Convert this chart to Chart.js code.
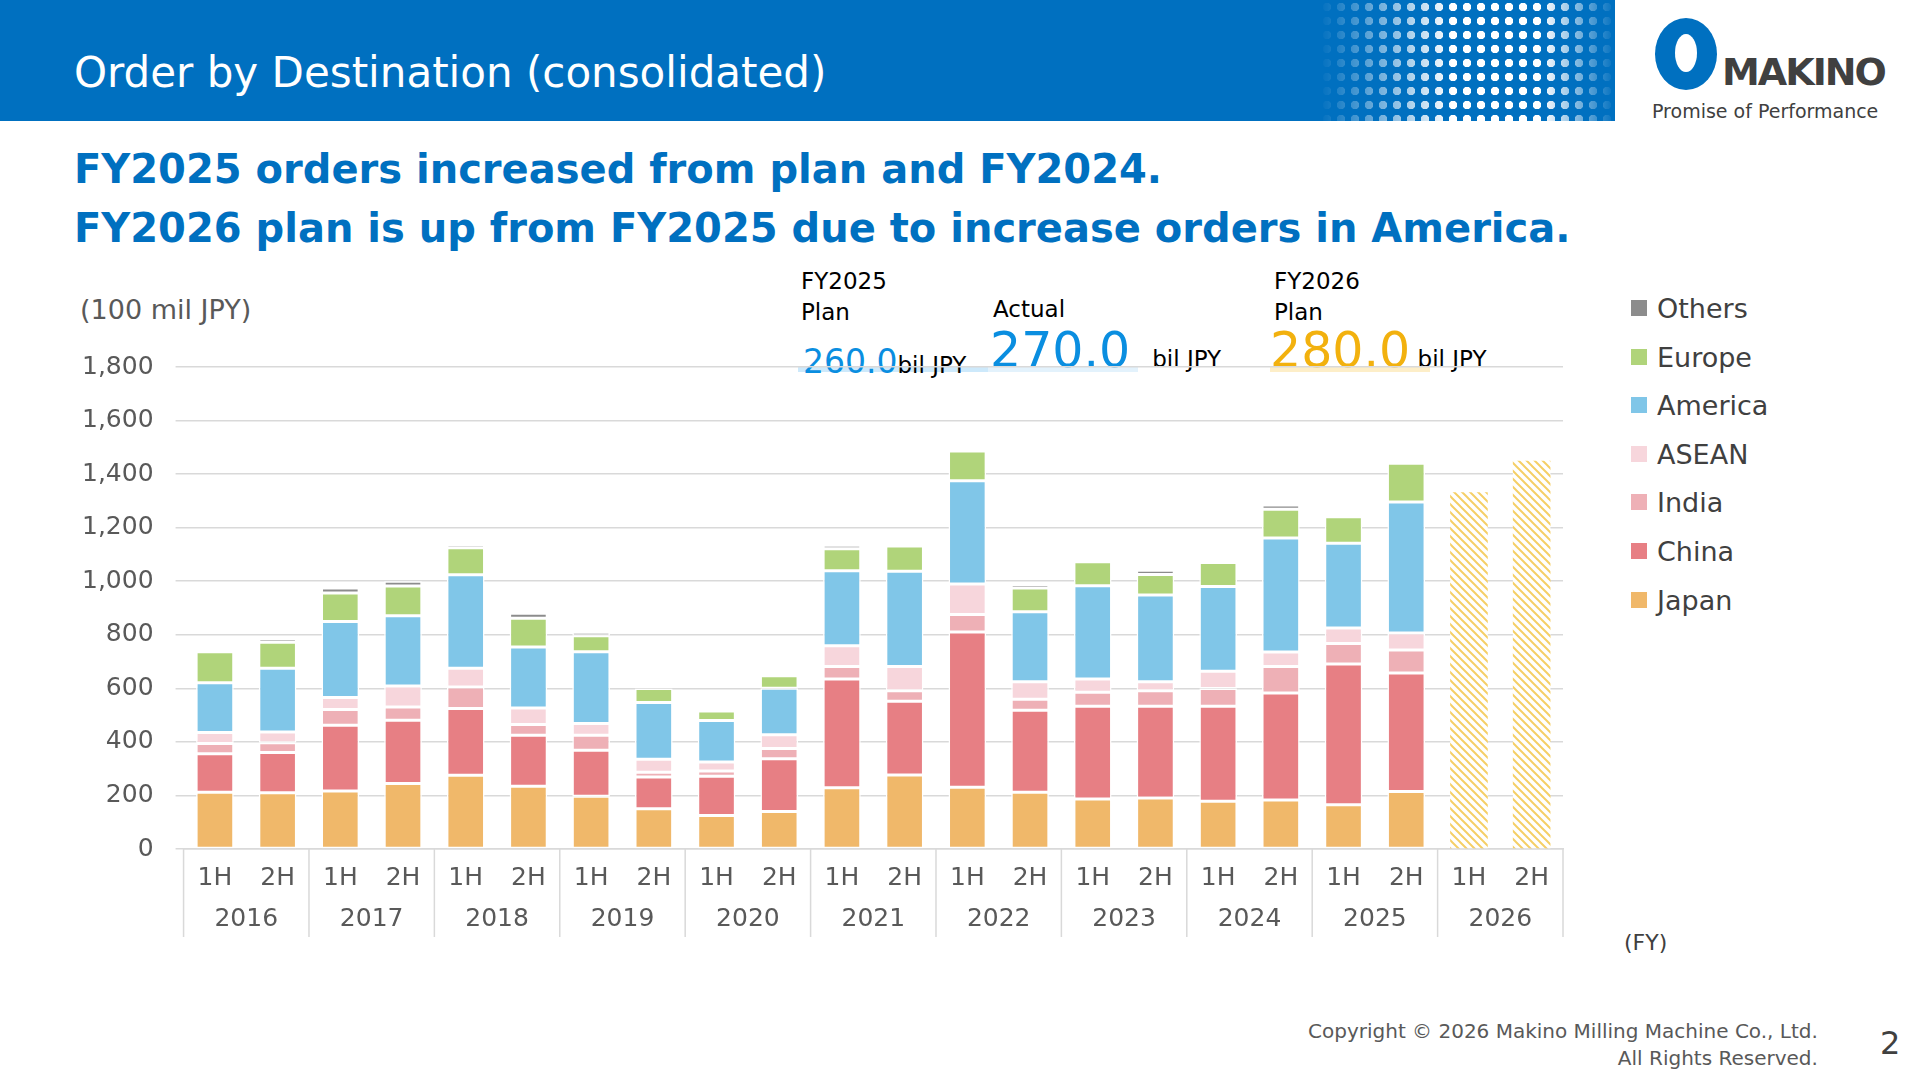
<!DOCTYPE html>
<html><head><meta charset="utf-8">
<script src="https://cdn.jsdelivr.net/npm/chart.js@4.4.1/dist/chart.umd.min.js"></script>
<style>
body{margin:0;width:1920px;height:1080px;overflow:hidden;background:#fff;font-family:"DejaVu Sans",Verdana,sans-serif;position:relative}
.abs{position:absolute;white-space:nowrap}
#band{left:0;top:0;width:1615px;height:121px;background:#0070c0}
#dots{left:1320px;top:0;width:295px;height:121px;
 background-image:radial-gradient(circle,#fff 0 4px,transparent 4.5px);background-size:14px 14px;
 -webkit-mask-image:linear-gradient(90deg,transparent,#000 45%,#000 75%,transparent);mask-image:linear-gradient(90deg,transparent,#000 45%,#000 75%,transparent)}
#title{left:74px;top:48px;color:#fff;font-size:42px}
.head{left:74px;color:#0070c0;font-weight:bold;font-size:40px}
.leg{left:1631px;font-size:27px;color:#404040}
.leg span{display:inline-block;width:16px;height:16px;margin-right:10px;vertical-align:2px}
</style></head><body>
<div id="band" class="abs"></div><div id="dots" class="abs"></div>
<div id="title" class="abs">Order by Destination (consolidated)</div>
<div class="abs" style="left:1655px;top:18px;width:62px;height:72px;border-radius:50%;background:#0070c0"></div>
<div class="abs" style="left:1675px;top:34px;width:22px;height:38px;border-radius:50%;background:#fff"></div>
<div class="abs" style="left:1722px;top:50px;font-size:38px;font-weight:bold;color:#404040;letter-spacing:-2px">MAKINO</div>
<div class="abs" style="left:1652px;top:100px;font-size:19px;color:#404040">Promise of Performance</div>
<div class="abs head" style="top:146px">FY2025 orders increased from plan and FY2024.</div>
<div class="abs head" style="top:205px">FY2026 plan is up from FY2025 due to increase orders in America.</div>
<div class="abs" style="left:80px;top:294px;font-size:27px;color:#595959">(100 mil JPY)</div>
<div class="abs" style="left:801px;top:266px;font-size:23px;line-height:31px;color:#000">FY2025<br>Plan</div>
<div class="abs" style="left:798px;top:366px;width:190px;height:6px;background:#cde9fb"></div>
<div class="abs" style="left:803px;top:342px;font-size:33px;color:#0a8ee0">260.0<span style="font-size:23px;color:#000">bil JPY</span></div>
<div class="abs" style="left:993px;top:296px;font-size:23px;color:#000">Actual</div>
<div class="abs" style="left:988px;top:366px;width:150px;height:6px;background:#e3f2fc"></div>
<div class="abs" style="left:990px;top:322px;font-size:49px;color:#0a8ee0">270.0<span style="font-size:23px;color:#000">&nbsp;&nbsp;&nbsp;bil JPY</span></div>
<div class="abs" style="left:1274px;top:266px;font-size:23px;line-height:31px;color:#000">FY2026<br>Plan</div>
<div class="abs" style="left:1270px;top:366px;width:160px;height:6px;background:#fdeec8"></div>
<div class="abs" style="left:1270px;top:322px;font-size:49px;color:#f2b10e">280.0<span style="font-size:23px;color:#000"> bil JPY</span></div>
<div class="abs leg" style="top:293px"><span style="background:#8c8c8c"></span>Others</div>
<div class="abs leg" style="top:342px"><span style="background:#b0d47a"></span>Europe</div>
<div class="abs leg" style="top:390px"><span style="background:#80c6e8"></span>America</div>
<div class="abs leg" style="top:439px"><span style="background:#f7d6dc"></span>ASEAN</div>
<div class="abs leg" style="top:487px"><span style="background:#eeb0b6"></span>India</div>
<div class="abs leg" style="top:536px"><span style="background:#e77f84"></span>China</div>
<div class="abs leg" style="top:585px"><span style="background:#f0b86a"></span>Japan</div>
<div class="abs" style="left:1624px;top:930px;font-size:22px;color:#404040">(FY)</div>
<div class="abs" style="left:1308px;top:1018px;font-size:20px;color:#595959;text-align:right;line-height:27px">Copyright © 2026 Makino Milling Machine Co., Ltd.<br>All Rights Reserved.</div>
<div class="abs" style="left:1880px;top:1024px;font-size:32px;color:#404040">2</div>
<div class="abs" style="left:60px;top:330px;width:1515px;height:659px"><canvas id="c"></canvas></div>
<script>
const HALVES = ["1H","2H","1H","2H","1H","2H","1H","2H","1H","2H","1H","2H","1H","2H","1H","2H","1H","2H","1H","2H","1H","2H"];
const YEARS = ["2016","2017","2018","2019","2020","2021","2022","2023","2024","2025","2026"];
const japan   = [212,210,217,245,275,234,197,150,125,140,229,276,231,212,187,190,178,183,165,215,null,null];
const china   = [144,150,245,236,250,191,172,119,147,197,406,276,579,306,346,343,355,400,526,442,null,null];
const india   = [38,37,59,49,80,40,56,18,19,38,47,39,66,41,52,58,66,99,76,86,null,null];
const asean   = [41,40,45,79,70,62,44,48,34,52,77,91,114,66,50,34,65,54,58,64,null,null];
const america = [186,238,284,262,349,227,268,212,155,173,280,355,385,261,348,324,316,425,317,489,null,null];
const europe  = [116,97,106,111,101,108,59,52,35,47,82,95,111,89,90,76,90,108,99,145,null,null];
const others  = [5,13,19,18,12,18,13,0,0,8,13,11,9,13,6,16,10,16,0,0,null,null];
const plan    = [null,null,null,null,null,null,null,null,null,null,null,null,null,null,null,null,null,null,null,null,1332,1450];

function hatch(){
  const p=document.createElement("canvas"); p.width=p.height=8;
  const g=p.getContext("2d"); g.fillStyle="#fff"; g.fillRect(0,0,8,8);
  g.strokeStyle="#f5cf66"; g.lineWidth=2;
  g.beginPath(); g.moveTo(0,0); g.lineTo(8,8); g.moveTo(-4,4); g.lineTo(4,12); g.moveTo(4,-4); g.lineTo(12,4); g.stroke();
  return g.createPattern(p,"repeat");
}
const ds=(label,data,color)=>({label,data,backgroundColor:color,borderColor:"#fff",borderWidth:1.5,borderSkipped:false,barPercentage:0.6,categoryPercentage:1});

const yearPlugin={id:"years",afterDraw(ch){
  const c=ch.ctx,x=ch.scales.x,a=ch.chartArea;
  c.save(); c.strokeStyle="#d9d9d9"; c.lineWidth=1.5;
  const step=x.getPixelForValue(1)-x.getPixelForValue(0);
  for(let i=0;i<=YEARS.length;i++){
    const px=x.getPixelForValue(2*i)-step/2;
    c.beginPath(); c.moveTo(px,a.bottom); c.lineTo(px,a.bottom+88); c.stroke();
  }
  c.fillStyle="#595959"; c.font="25px 'DejaVu Sans'"; c.textAlign="center"; c.textBaseline="middle";
  YEARS.forEach((y,i)=>c.fillText(y,(x.getPixelForValue(2*i)+x.getPixelForValue(2*i+1))/2,a.bottom+70));
  c.restore();
}};

new Chart(document.getElementById("c"),{
  type:"bar",
  data:{labels:HALVES,datasets:[
    ds("Japan",japan,"#f0b86a"),ds("China",china,"#e77f84"),ds("India",india,"#eeb0b6"),
    ds("ASEAN",asean,"#f7d6dc"),ds("America",america,"#80c6e8"),ds("Europe",europe,"#b0d47a"),
    ds("Others",others,"#8c8c8c"),
    Object.assign(ds("Plan",plan,hatch()),{borderWidth:0})
  ]},
  options:{responsive:true,maintainAspectRatio:false,animation:false,
    layout:{padding:{bottom:90,right:12}},
    plugins:{legend:{display:false},tooltip:{enabled:false}},
    scales:{
      x:{stacked:true,grid:{display:false},border:{color:"#d9d9d9",width:1.5},
         ticks:{color:"#595959",font:{size:25,family:"DejaVu Sans"},padding:6}},
      y:{stacked:true,min:0,max:1800,border:{display:false},
         grid:{color:"#d9d9d9",lineWidth:1.5},
         ticks:{stepSize:200,color:"#595959",font:{size:25,family:"DejaVu Sans"},padding:22,
           callback:v=>v.toLocaleString("en-US")}}
    }},
  plugins:[yearPlugin]
});
</script>
</body></html>
